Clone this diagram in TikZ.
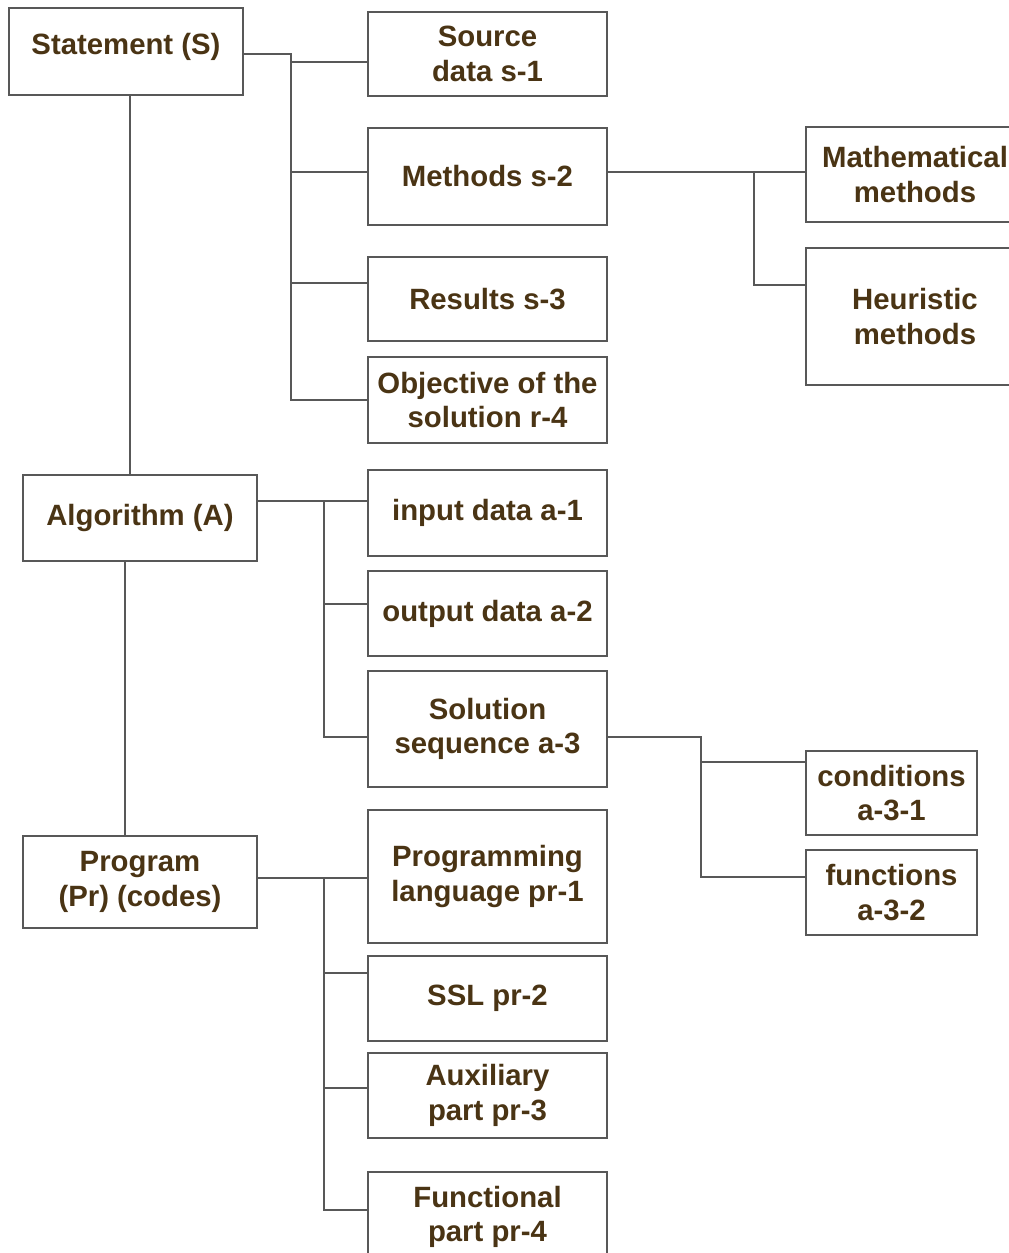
\documentclass[tikz,border=0pt]{standalone}
\usepackage{fontspec}
\setmainfont{Liberation Sans}
\usetikzlibrary{
  calc,
  positioning
}
\definecolor{inkbrown}{RGB}{74,52,20}
\definecolor{linegray}{RGB}{88,88,88}
\tikzset{
  link/.style={draw=linegray,line width=1.4pt},
  box/.style={
    draw=linegray,
    line width=1.4pt,
    fill=white,
    align=center,
    inner sep=2pt,
    text=inkbrown,
    font=\fontsize{22}{26}\selectfont\bfseries
  },
  wh/.style 2 args={minimum width=#1*0.75pt,minimum height=#2*0.75pt}
}

\begin{document}
\begin{tikzpicture}[x=0.75pt,y=-0.75pt]
  \useasboundingbox (0,0) rectangle (1009,1253);

  % main column
  \node[box,wh={234}{87},text depth=12pt] (stmt) at (126,51.5) {Statement (S)};
  \node[box,wh={234}{86}] (alg) at (140,518) {Algorithm (A)};
  \node[box,wh={234}{92}] (prog) at (140,882) {Program\\(Pr) (codes)};

  % statement parts
  \node[box,wh={239}{84}] (src) at (487.5,54) {Source\\data s-1};
  \node[box,wh={239}{97}] (meth) at (487.5,176.5) {Methods s-2};
  \node[box,wh={239}{84}] (res) at (487.5,299) {Results s-3};
  \node[box,wh={239}{86}] (obj) at (487.5,400) {Objective of the\\solution r-4};
  \node[box,wh={218}{95}] (math) at (915,174.5) {Mathematical\\methods};
  \node[box,wh={218}{137}] (heur) at (915,316.5) {Heuristic\\methods};

  % algorithm parts
  \node[box,wh={239}{86}] (inp) at (487.5,513) {input data a-1};
  \node[box,wh={239}{85}] (outp) at (487.5,613.5) {output data a-2};
  \node[box,wh={239}{116}] (sol) at (487.5,729) {Solution\\sequence a-3};
  \node[box,wh={171}{84}] (cond) at (891.5,793) {conditions\\a-3-1};
  \node[box,wh={171}{85}] (func) at (891.5,892.5) {functions\\a-3-2};

  % program parts
  \node[box,wh={239}{133}] (pr1) at (487.5,876.5) {Programming\\language pr-1};
  \node[box,wh={239}{85}] (pr2) at (487.5,998.5) {SSL pr-2};
  \node[box,wh={239}{85}] (pr3) at (487.5,1095.5) {Auxiliary\\part pr-3};
  \node[box,wh={239}{90}] (pr4) at (487.5,1217) {Functional\\part pr-4};

  % spine
  \draw[link] ([xshift=3pt]stmt.south) -- ([xshift=3pt]stmt.south |- alg.north);
  \draw[link] ([xshift=-11pt]alg.south) -- ([xshift=-11pt]prog.north);

  % statement bus
  \coordinate (sbus) at (291,54);
  \coordinate (mtap) at (291,172);
  \draw[link] (stmt.east |- sbus) -- (sbus) |- (obj.west);
  \draw[link] ([yshift=-6pt]src.west -| sbus) -- ([yshift=-6pt]src.west);
  \draw[link] (mtap) -- (meth.west |- mtap);
  \draw[link] ([yshift=12pt]res.west -| sbus) -- ([yshift=12pt]res.west);

  % methods bus
  \coordinate (mbus) at (754,172);
  \draw[link] (meth.east |- mbus) -- (math.west |- mbus);
  \draw[link] (mbus) |- ([yshift=23.6pt]heur.west);

  % algorithm bus
  \coordinate (abus) at (324,501);
  \draw[link] (alg.east |- abus) -- (inp.west |- abus);
  \draw[link] (abus) |- ([yshift=-6pt]sol.west);
  \draw[link] ([yshift=7pt]outp.west -| abus) -- ([yshift=7pt]outp.west);

  % solution bus
  \coordinate (qbus) at (701,737);
  \draw[link] (sol.east |- qbus) -- (qbus) |- ([yshift=11.6pt]func.west);
  \draw[link] ([yshift=23pt]cond.west -| qbus) -- ([yshift=23pt]cond.west);

  % program bus
  \coordinate (pbus) at (324,878);
  \draw[link] (prog.east |- pbus) -- (pr1.west |- pbus);
  \draw[link] (pbus) |- ([yshift=5pt]pr4.west);
  \draw[link] ([yshift=19pt]pr2.west -| pbus) -- ([yshift=19pt]pr2.west);
  \draw[link] ([yshift=5.6pt]pr3.west -| pbus) -- ([yshift=5.6pt]pr3.west);
\end{tikzpicture}
\end{document}
